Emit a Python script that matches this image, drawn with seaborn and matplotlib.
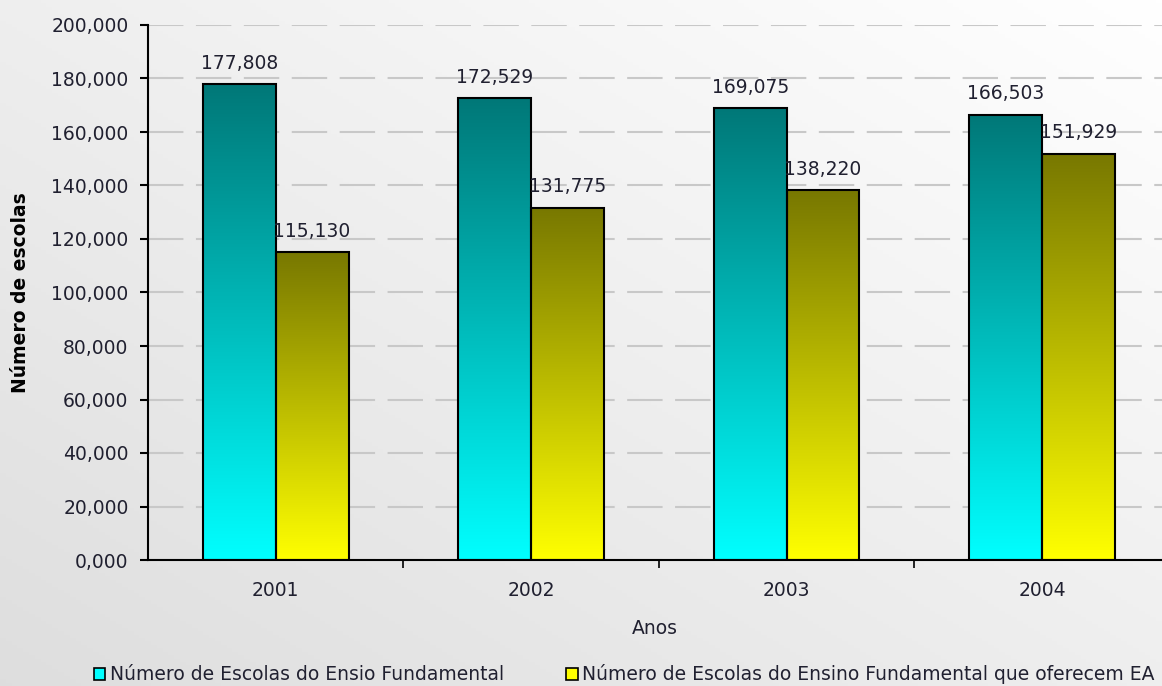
import numpy as np
import pandas as pd
import matplotlib
matplotlib.use('Agg')
import matplotlib.pyplot as plt
import seaborn as sns
from matplotlib.patches import Patch
from matplotlib.ticker import FuncFormatter, FixedLocator

# Dados
anos = ['2001', '2002', '2003', '2004']
escolas_ef = [177808, 172529, 169075, 166503]
escolas_ea = [115130, 131775, 138220, 151929]
series = ['Número de Escolas do Ensio Fundamental',
          'Número de Escolas do Ensino Fundamental que oferecem EA']

df = pd.DataFrame({
    'Ano': anos * 2,
    'Escolas': escolas_ef + escolas_ea,
    'Serie': [series[0]] * 4 + [series[1]] * 4,
})

# cores (base / topo do gradiente)
cor_base = [(0, 1, 1), (1, 1, 0)]
cor_topo = [(0, 0.47, 0.47), (0.47, 0.47, 0)]
texto = '#202030'
fs = 13.5

sns.set_style('white')
plt.rcParams['font.family'] = ['DejaVu Sans']

fig = plt.figure(figsize=(11.62, 6.86), dpi=100)

# fundo em gradiente
bg = fig.add_axes([0, 0, 1, 1], zorder=-1)
xx, yy = np.meshgrid(np.linspace(0, 1, 200), np.linspace(1, 0, 200))
val = 0.87 + 0.13 * (xx + yy) / 2
bg.imshow(np.dstack([val, val, val]), aspect='auto', extent=[0, 1, 0, 1])
bg.axis('off')

ax = fig.add_axes([148 / 1162, 1 - 560 / 686, 1 - 148 / 1162, (560 - 25) / 686])
ax.patch.set_alpha(0)

sns.barplot(data=df, x='Ano', y='Escolas', hue='Serie', palette=[cor_base[0], cor_base[1]],
            width=0.57, edgecolor='black', linewidth=1.5, ax=ax, legend=False, errorbar=None)

# gradiente em cada barra
for i, cont in enumerate(ax.containers):
    grad = np.linspace(0, 1, 256)
    img = np.zeros((256, 1, 3))
    for c in range(3):
        img[:, 0, c] = cor_topo[i][c] + (cor_base[i][c] - cor_topo[i][c]) * grad
    for p in cont.patches:
        x0, w, h = p.get_x(), p.get_width(), p.get_height()
        im = ax.imshow(img, extent=[x0, x0 + w, 0, h], aspect='auto', zorder=1.5)
        im.set_clip_path(p)
        p.set_facecolor('none')
        p.set_zorder(2)
    ax.bar_label(cont, labels=[f'{int(v):,}' for v in cont.datavalues], padding=8,
                 fontsize=fs, color=texto)

ax.set_xlim(-0.5, 3.47)
ax.set_ylim(0, 200000)
ax.set_yticks(np.arange(0, 200001, 20000))
ax.yaxis.set_major_formatter(FuncFormatter(lambda v, p: f'{v / 1000:.3f}'.replace('.', ',')))
ax.xaxis.set_minor_locator(FixedLocator([0.5, 1.5, 2.5]))

ax.grid(axis='y', color='#c8c8c8', linestyle=(0, (17, 6)), linewidth=1.5, zorder=0.5)
ax.set_axisbelow(True)

for s in ['top', 'right']:
    ax.spines[s].set_visible(False)
for s in ['left', 'bottom']:
    ax.spines[s].set_color('black')
    ax.spines[s].set_linewidth(1.5)

ax.tick_params(axis='y', which='major', length=6, width=1.5, color='black', pad=8,
               labelsize=fs, labelcolor=texto, left=True)
ax.tick_params(axis='x', which='major', length=0, pad=15, labelsize=fs, labelcolor=texto)
ax.tick_params(axis='x', which='minor', length=6, width=1.2, color='black', bottom=True)

ax.set_xlabel('Anos', fontsize=fs, color=texto, labelpad=14)
ax.set_ylabel('Número de escolas', fontsize=fs, fontweight='bold', color='black', labelpad=15)

handles = [Patch(facecolor=cor_base[0], edgecolor='black', linewidth=1.2),
           Patch(facecolor=cor_base[1], edgecolor='black', linewidth=1.2)]
fig.legend(handles, series, loc='lower left', bbox_to_anchor=(0.066, -0.022), ncol=2,
           frameon=False, fontsize=fs, handlelength=0.6, handleheight=0.6,
           handletextpad=0.25, columnspacing=3.35, labelcolor=texto)

fig.savefig('out.png', dpi=100)
